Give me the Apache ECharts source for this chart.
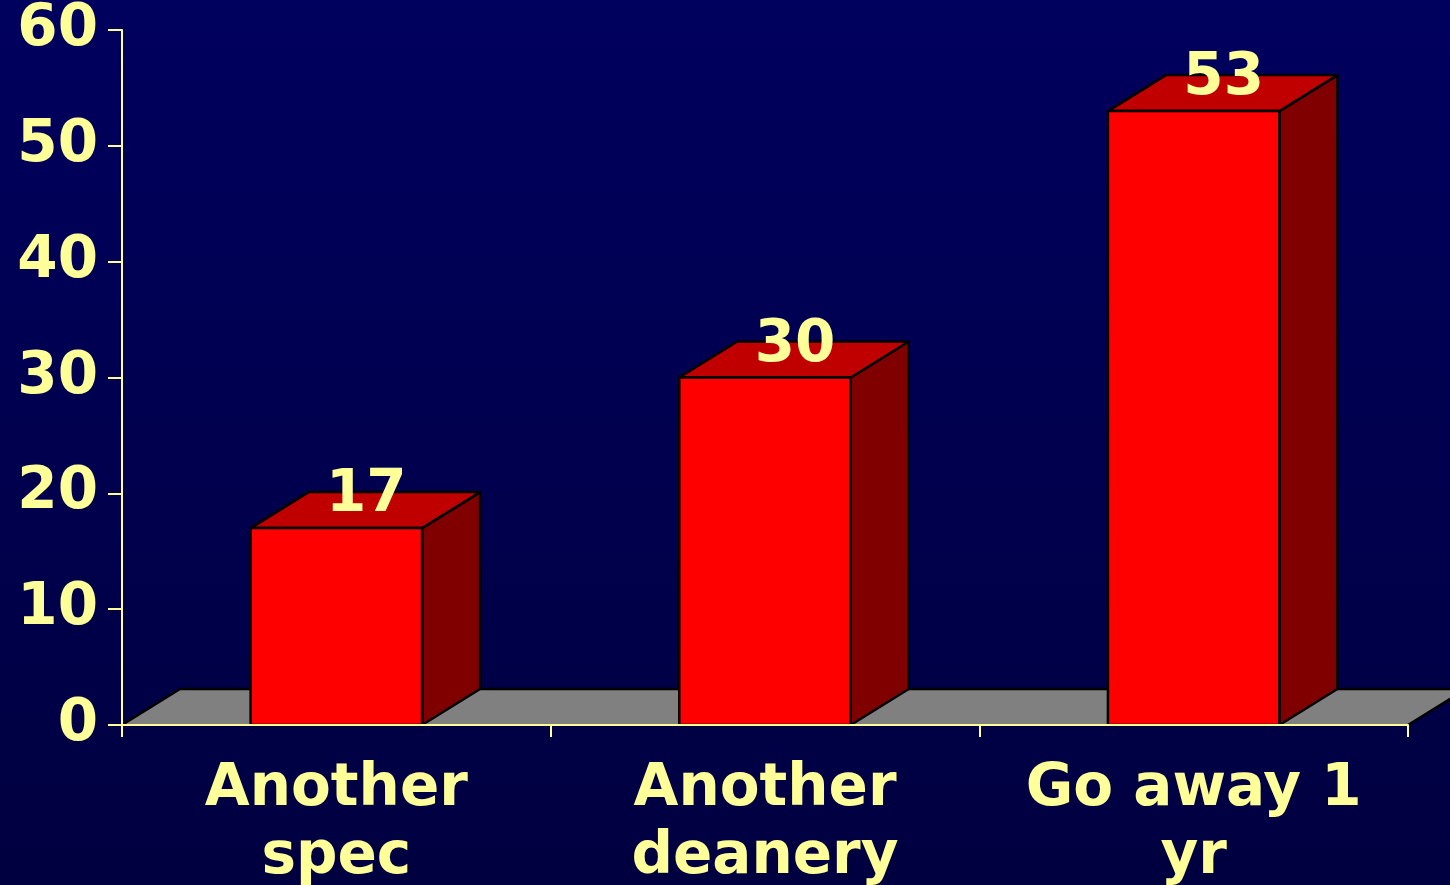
<!DOCTYPE html>
<html>
<head>
<meta charset="utf-8">
<style>
html,body{margin:0;padding:0;background:#000050;}
#chart{width:1450px;height:885px;}
</style>
<script src="https://cdn.jsdelivr.net/npm/echarts@6/dist/echarts.min.js"></script>
</head>
<body>
<div id="chart"></div>
<script>
const categories = ['Another\nspec', 'Another\ndeanery', 'Go away 1\nyr'];
const values = [17, 30, 53];
const yTicks = { min: 0, max: 60, interval: 10 };

const TEXT = '#FFFF99';
const FONT = '"DejaVu Sans", Verdana, sans-serif';
const DX = 58, DY = 36;

const chart = echarts.init(document.getElementById('chart'));

function renderFloor(params, api) {
  const cs = params.coordSys;
  const gx = cs.x, gw = cs.width;
  const by = api.coord([0, 0])[1];
  return {
    type: 'group',
    children: [
      { type: 'polygon', shape: { points: [[gx, by], [gx + DX, by - DY], [gx + gw + DX, by - DY], [gx + gw, by]] },
        style: { fill: '#808080', stroke: null } },
      { type: 'polyline', shape: { points: [[gx, by], [gx + DX, by - DY], [gx + gw + DX, by - DY]] },
        style: { fill: null, stroke: '#000', lineWidth: 2.5 } },
      { type: 'line', shape: { x1: gx + gw, y1: by, x2: gx + gw + DX, y2: by - DY },
        style: { stroke: '#000', lineWidth: 2.5 } }
    ]
  };
}

function renderBar(params, api) {
  const xi = api.value(0), v = api.value(1);
  const base = api.coord([xi, 0]);
  const top = api.coord([xi, v]);
  const bw = api.size([1, 0])[0] * 0.4;
  const x0 = base[0] - bw / 2, x1 = base[0] + bw / 2;
  const ty = top[1], by = base[1];
  const st = { stroke: '#000', lineWidth: 2.5, lineJoin: 'round' };
  return {
    type: 'group',
    children: [
      { type: 'polygon', shape: { points: [[x1, ty], [x1 + DX, ty - DY], [x1 + DX, by - DY], [x1, by]] },
        style: Object.assign({ fill: '#800000' }, st) },
      { type: 'polygon', shape: { points: [[x0, ty], [x0 + DX, ty - DY], [x1 + DX, ty - DY], [x1, ty]] },
        style: Object.assign({ fill: '#C00000' }, st) },
      { type: 'rect', shape: { x: x0, y: ty, width: bw, height: by - ty },
        style: Object.assign({ fill: '#FF0000' }, st) },
      { type: 'text', x: base[0] + DX / 2 + 1, y: ty - DY + 4,
        style: { text: String(v), fill: TEXT, font: 'bold 58px ' + FONT, align: 'center', verticalAlign: 'middle' } }
    ]
  };
}

chart.setOption({
  backgroundColor: {
    type: 'linear', x: 0, y: 0, x2: 0, y2: 1,
    colorStops: [{ offset: 0, color: '#00005E' }, { offset: 1, color: '#000040' }]
  },
  animation: false,
  grid: { left: 122, right: 42, top: 30, bottom: 160, containLabel: false, outerBoundsMode: 'none' },
  xAxis: {
    type: 'category',
    data: categories,
    z: 10,
    axisLine: { lineStyle: { color: TEXT, width: 2 } },
    axisTick: { show: true, length: 12, lineStyle: { color: TEXT, width: 2 } },
    axisLabel: { color: TEXT, fontFamily: FONT, fontWeight: 'bold', fontSize: 58, lineHeight: 68, margin: 31, interval: 0 },
    splitLine: { show: false }
  },
  yAxis: {
    type: 'value',
    min: yTicks.min, max: yTicks.max, interval: yTicks.interval,
    z: 10,
    axisLine: { show: true, lineStyle: { color: TEXT, width: 2 } },
    axisTick: { show: true, length: 14, lineStyle: { color: TEXT, width: 2 } },
    axisLabel: { color: TEXT, fontFamily: FONT, fontWeight: 'bold', fontSize: 58, margin: 24, padding: [8, 0, 0, 0] },
    splitLine: { show: false }
  },
  series: [
    { type: 'custom', renderItem: renderFloor, data: [[0, 0]], z: 1, silent: true },
    { type: 'custom', renderItem: renderBar, data: values.map((v, i) => [i, v]), z: 2, clip: false }
  ]
});
</script>
</body>
</html>
